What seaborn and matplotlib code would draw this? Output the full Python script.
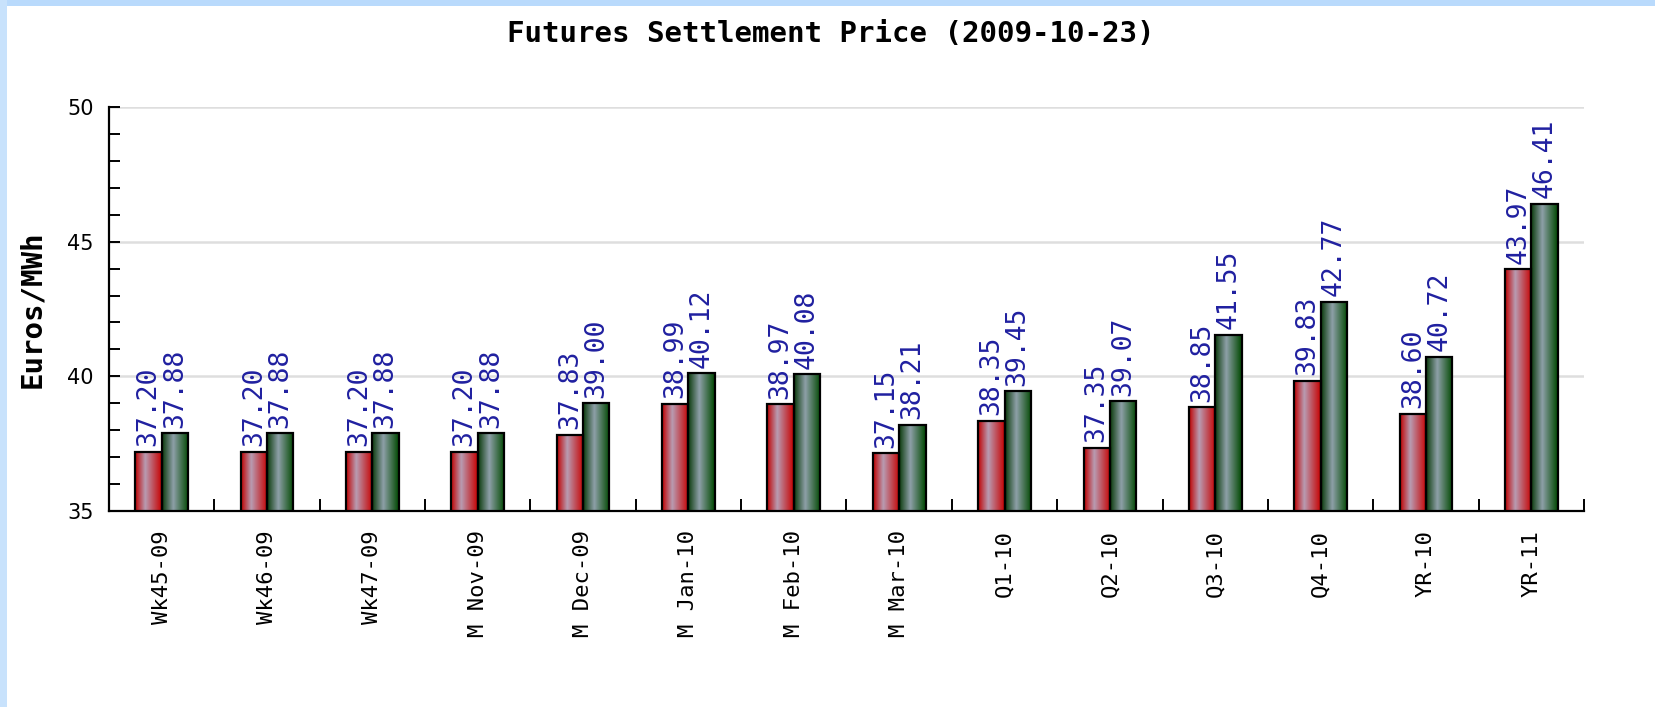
import numpy as np
import pandas as pd
import matplotlib
matplotlib.use("Agg")
import matplotlib.pyplot as plt
from matplotlib.colors import LinearSegmentedColormap
from matplotlib.patches import Rectangle
from matplotlib.ticker import MultipleLocator, FixedLocator
import seaborn as sns

categories = ["Wk45-09", "Wk46-09", "Wk47-09", "M Nov-09", "M Dec-09", "M Jan-10",
              "M Feb-10", "M Mar-10", "Q1-10", "Q2-10", "Q3-10", "Q4-10", "YR-10", "YR-11"]
series_a = [37.20, 37.20, 37.20, 37.20, 37.83, 38.99, 38.97, 37.15, 38.35, 37.35,
            38.85, 39.83, 38.60, 43.97]
series_b = [37.88, 37.88, 37.88, 37.88, 39.00, 40.12, 40.08, 38.21, 39.45, 39.07,
            41.55, 42.77, 40.72, 46.41]
series_names = ["Series A", "Series B"]
title = "Futures Settlement Price (2009-10-23)"
ylabel = "Euros/MWh"

df = pd.DataFrame({
    "contract": categories * 2,
    "series": [series_names[0]] * len(categories) + [series_names[1]] * len(categories),
    "price": series_a + series_b,
})

sns.set_style("white")
plt.rcParams["font.family"] = ["DejaVu Sans"]
plt.rcParams["text.color"] = "black"
plt.rcParams["xtick.color"] = "black"
plt.rcParams["ytick.color"] = "black"

W, H = 1656, 707
fig = plt.figure(figsize=(W / 100, H / 100), dpi=100)
fig.patch.set_facecolor("white")
ax = fig.add_axes([109 / W, 1 - 511 / H, (1584 - 109) / W, (511 - 107) / H])

sns.barplot(data=df, x="contract", y="price", hue="series", order=categories,
            palette=["#c40000", "#0a4a0a"], width=0.5, saturation=1,
            edgecolor="black", linewidth=1.6, legend=False, ax=ax, errorbar=None)

ymin, ymax = 35, 50
red_cmap = LinearSegmentedColormap.from_list(
    "redgrad", [(0, "#c00000"), (0.38, "#b89cb2"), (1, "#c80000")])
green_cmap = LinearSegmentedColormap.from_list(
    "greengrad", [(0, "#0a3a0a"), (0.42, "#8ea0a8"), (1, "#004800")])
grad = np.linspace(0, 1, 128).reshape(1, -1)

for container, cmap in zip(ax.containers, [red_cmap, green_cmap]):
    for bar in container:
        x0 = bar.get_x()
        w = bar.get_width()
        h = bar.get_height()
        im = ax.imshow(grad, cmap=cmap, extent=(x0, x0 + w, ymin, h),
                       aspect="auto", zorder=2, interpolation="bilinear")
        im.set_clip_path(bar)
        bar.set_facecolor("none")
        bar.set_zorder(3)
    ax.bar_label(container, fmt="%.2f", rotation=90, padding=4,
                 color="#2020a0", fontsize=19, family="DejaVu Sans Mono")

ax.set_xlim(-0.5, len(categories) - 0.5)
ax.set_ylim(ymin, ymax)

# axes styling
for s in ["top", "right"]:
    ax.spines[s].set_visible(False)
for s in ["left", "bottom"]:
    ax.spines[s].set_color("black")
    ax.spines[s].set_linewidth(1.6)

ax.yaxis.set_major_locator(MultipleLocator(5))
ax.yaxis.set_minor_locator(MultipleLocator(1))
ax.tick_params(axis="y", which="both", direction="in", length=8, width=1.4,
               color="black", labelcolor="black", left=True, labelsize=15, pad=11)
ax.grid(axis="y", which="major", color="#dedede", linewidth=1.8, zorder=0)
ax.set_axisbelow(True)

ax.xaxis.set_minor_locator(FixedLocator(np.arange(len(categories)) + 0.5))
ax.tick_params(axis="x", which="major", length=0, pad=14, labelsize=16,
               labelcolor="black", labelrotation=90)
ax.tick_params(axis="x", which="minor", direction="in", length=9, width=1.4,
               color="black", bottom=True)
for lbl in ax.get_xticklabels():
    lbl.set_family("DejaVu Sans Mono")
    lbl.set_va("top")
    lbl.set_ha("center")

ax.set_xlabel("")
ax.set_ylabel("")

fig.text(32 / W, 1 - 309 / H, ylabel, rotation=90, ha="center", va="center",
         fontsize=21, fontweight="bold", family="DejaVu Sans Mono", color="black")
fig.text(831 / W, 1 - 34 / H, title, ha="center", va="center",
         fontsize=21, fontweight="bold", family="DejaVu Sans Mono", color="black")

# light blue frame of the original page
fig.patches.append(Rectangle((0, 1 - 6 / H), 1, 6 / H, transform=fig.transFigure,
                             facecolor="#b9dafc", edgecolor="none", zorder=0))
fig.patches.append(Rectangle((0, 0), 7 / W, 1, transform=fig.transFigure,
                             facecolor="#c8e2fc", edgecolor="none", zorder=0))

fig.savefig("out.png", dpi=100)
